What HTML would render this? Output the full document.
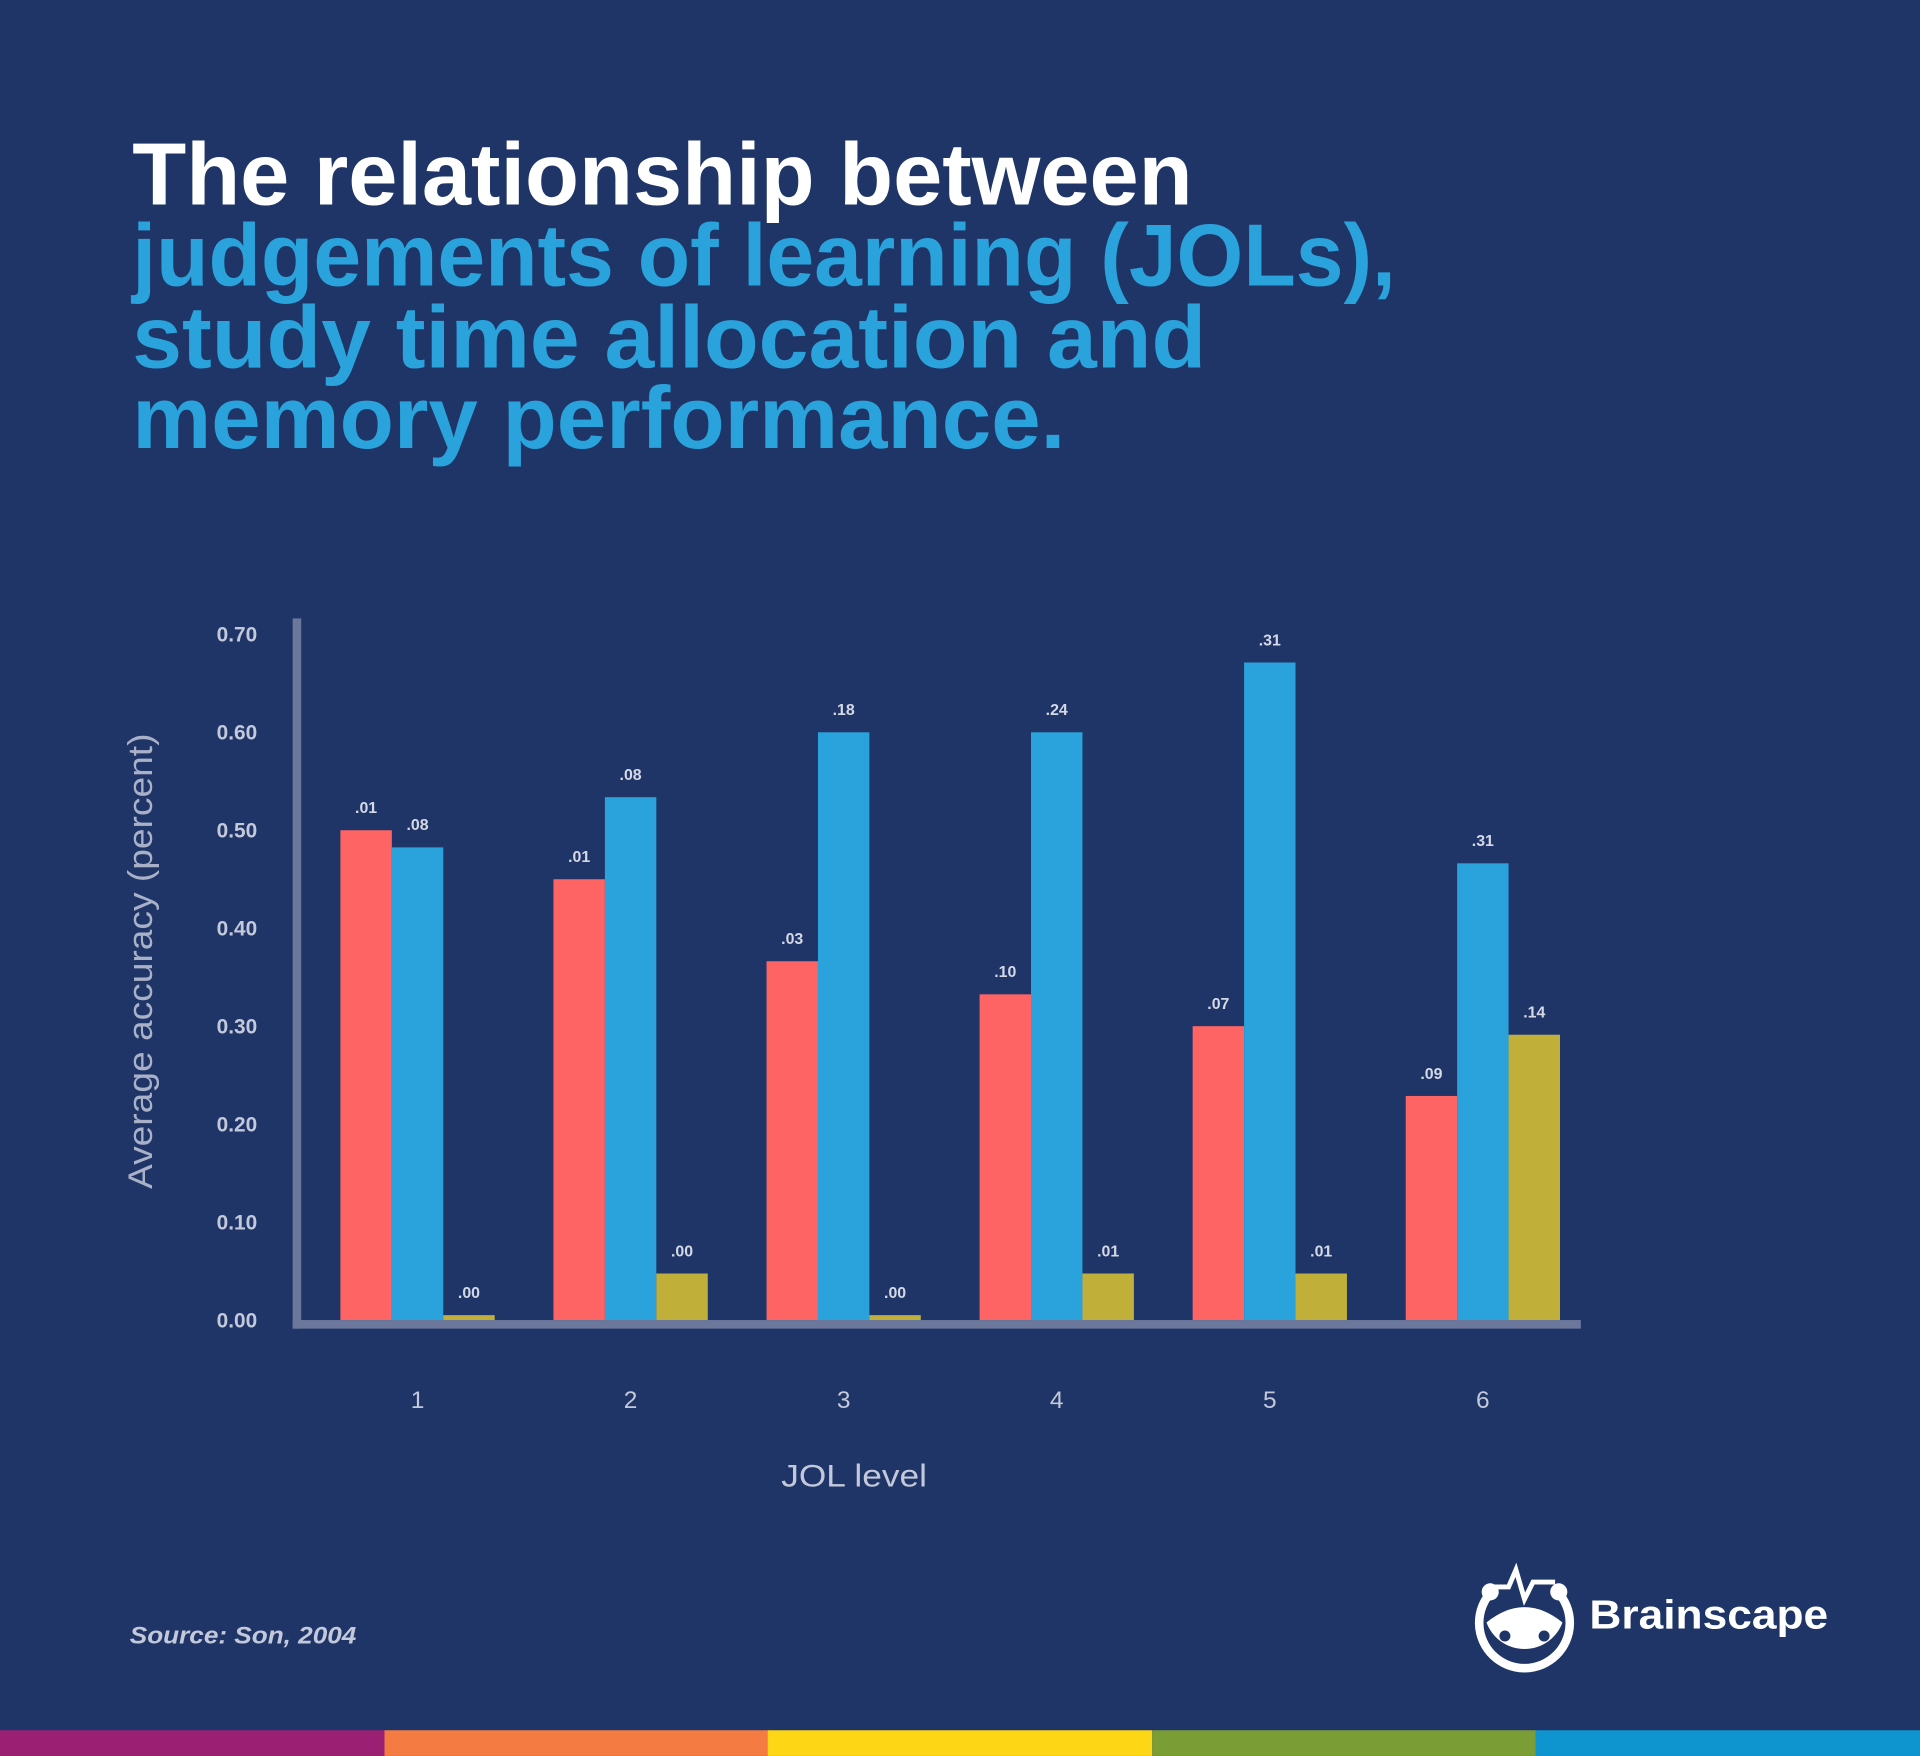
<!DOCTYPE html>
<html><head><meta charset="utf-8"><style>
html,body{margin:0;padding:0;background:#1f3567;}
svg{display:block;}
</style></head><body>
<svg width="1920" height="1756" viewBox="0 0 1568 1434" xmlns="http://www.w3.org/2000/svg" font-family="Liberation Sans, sans-serif">
<rect width="1568" height="1434" fill="#1f3567"/>
<g font-weight="bold" font-size="72">
<text x="108" y="167" fill="#ffffff" textLength="866" lengthAdjust="spacingAndGlyphs">The relationship between</text>
<text x="108" y="233" fill="#2aa3dc" textLength="1032" lengthAdjust="spacingAndGlyphs">judgements of learning (JOLs),</text>
<text x="108" y="300" fill="#2aa3dc" textLength="877" lengthAdjust="spacingAndGlyphs">study time allocation and</text>
<text x="108" y="366" fill="#2aa3dc" textLength="762" lengthAdjust="spacingAndGlyphs">memory performance.</text>
</g>
<g font-size="17" font-weight="bold" fill="#c3c9da" text-anchor="end">
<text x="210" y="524">0.70</text><text x="210" y="604">0.60</text><text x="210" y="684">0.50</text>
<text x="210" y="764">0.40</text><text x="210" y="844">0.30</text><text x="210" y="924">0.20</text>
<text x="210" y="1004">0.10</text><text x="210" y="1084">0.00</text>
</g>
<text transform="translate(124,785) rotate(-90)" text-anchor="middle" font-size="28" fill="#a9b1c8" textLength="372" lengthAdjust="spacingAndGlyphs">Average accuracy (percent)</text>
<g>
<rect x="278" y="678" width="42" height="400" fill="#ff6464"/><rect x="320" y="692" width="42" height="386" fill="#2aa3dc"/><rect x="362" y="1074" width="42" height="4" fill="#c0b03a"/>
<rect x="452" y="718" width="42" height="360" fill="#ff6464"/><rect x="494" y="651" width="42" height="427" fill="#2aa3dc"/><rect x="536" y="1040" width="42" height="38" fill="#c0b03a"/>
<rect x="626" y="785" width="42" height="293" fill="#ff6464"/><rect x="668" y="598" width="42" height="480" fill="#2aa3dc"/><rect x="710" y="1074" width="42" height="4" fill="#c0b03a"/>
<rect x="800" y="812" width="42" height="266" fill="#ff6464"/><rect x="842" y="598" width="42" height="480" fill="#2aa3dc"/><rect x="884" y="1040" width="42" height="38" fill="#c0b03a"/>
<rect x="974" y="838" width="42" height="240" fill="#ff6464"/><rect x="1016" y="541" width="42" height="537" fill="#2aa3dc"/><rect x="1058" y="1040" width="42" height="38" fill="#c0b03a"/>
<rect x="1148" y="895" width="42" height="183" fill="#ff6464"/><rect x="1190" y="705" width="42" height="373" fill="#2aa3dc"/><rect x="1232" y="845" width="42" height="233" fill="#c0b03a"/>
</g>
<g font-size="13" font-weight="bold" fill="#d5d9e5" text-anchor="middle">
<text x="299" y="664">.01</text><text x="341" y="678">.08</text><text x="383" y="1060">.00</text>
<text x="473" y="704">.01</text><text x="515" y="637">.08</text><text x="557" y="1026">.00</text>
<text x="647" y="771">.03</text><text x="689" y="584">.18</text><text x="731" y="1060">.00</text>
<text x="821" y="798">.10</text><text x="863" y="584">.24</text><text x="905" y="1026">.01</text>
<text x="995" y="824">.07</text><text x="1037" y="527">.31</text><text x="1079" y="1026">.01</text>
<text x="1169" y="881">.09</text><text x="1211" y="691">.31</text><text x="1253" y="831">.14</text>
</g>
<rect x="239" y="505" width="7" height="580" fill="#6b789c"/>
<rect x="239" y="1078" width="1052" height="7" fill="#6b789c"/>
<g font-size="20" fill="#c3c9da" text-anchor="middle">
<text x="341" y="1150">1</text><text x="515" y="1150">2</text><text x="689" y="1150">3</text>
<text x="863" y="1150">4</text><text x="1037" y="1150">5</text><text x="1211" y="1150">6</text>
</g>
<text x="638" y="1214" font-size="26" fill="#c3c9da" textLength="119" lengthAdjust="spacingAndGlyphs">JOL level</text>
<text x="106" y="1342" font-size="20" font-weight="bold" font-style="italic" fill="#c3c9da" textLength="185" lengthAdjust="spacingAndGlyphs">Source: Son, 2004</text>
<g fill="#ffffff">
<path d="M1218 1300 A37 37 0 1 0 1272 1300" fill="none" stroke="#fff" stroke-width="7"/>
<path d="M1214 1325 Q1245 1300 1276 1325 A33 33 0 0 1 1214 1325Z"/>
<circle cx="1217" cy="1300" r="7"/><circle cx="1273" cy="1300" r="7"/>
<polyline points="1220,1296 1232,1296 1238,1282 1245,1306 1252,1292 1270,1292" fill="none" stroke="#fff" stroke-width="4"/>
<text x="1298" y="1330" font-size="33" font-weight="bold" textLength="195" lengthAdjust="spacingAndGlyphs">Brainscape</text>
</g>
<circle cx="1229" cy="1336" r="4.5" fill="#1f3567"/><circle cx="1261" cy="1336" r="4.5" fill="#1f3567"/>
<rect x="0" y="1413" width="314" height="21" fill="#9b1f73"/>
<rect x="314" y="1413" width="314" height="21" fill="#f47b42"/>
<rect x="627" y="1413" width="314" height="21" fill="#fdd615"/>
<rect x="941" y="1413" width="314" height="21" fill="#7a9d36"/>
<rect x="1254" y="1413" width="314" height="21" fill="#0e95d0"/>
</svg>
</body></html>
